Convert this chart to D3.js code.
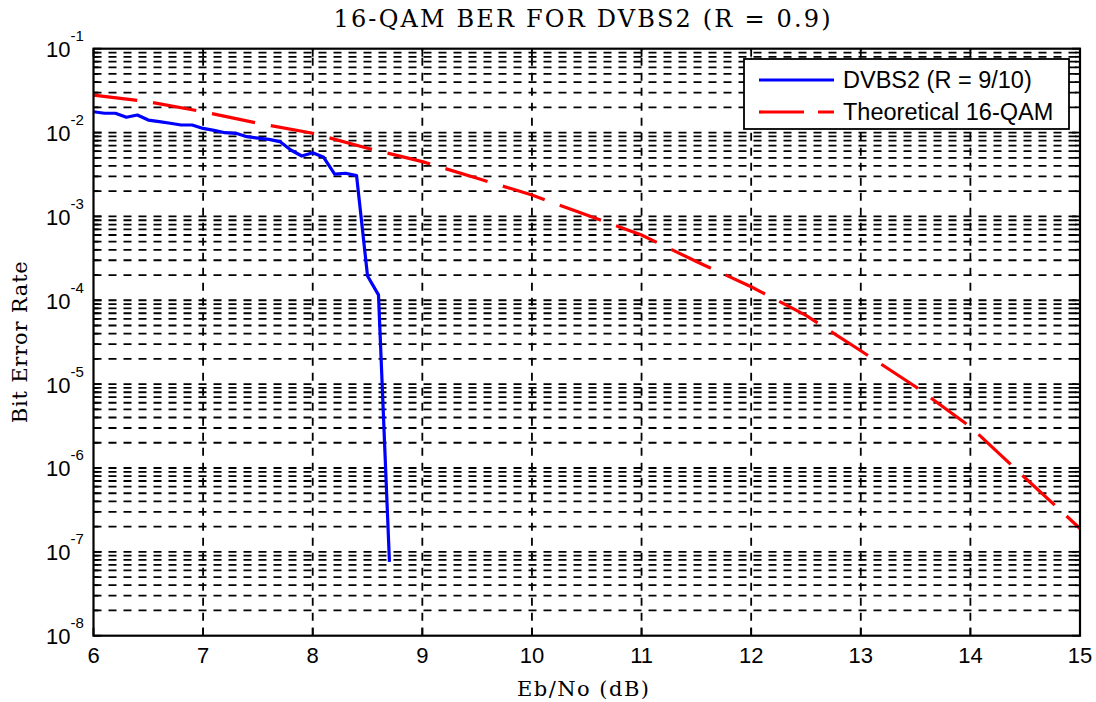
<!DOCTYPE html>
<html>
<head>
<meta charset="utf-8">
<script src="https://cdn.jsdelivr.net/npm/d3@7"></script>
<style>
  body { margin: 0; background: #fff; }
</style>
</head>
<body>
<script>
// simulated DVBS2 curve (R = 9/10)
const ebnoSim = [6.0, 6.1, 6.2, 6.3, 6.4, 6.5, 6.6, 6.7, 6.8, 6.9, 7.0, 7.1, 7.2, 7.3,
  7.4, 7.5, 7.6, 7.7, 7.8, 7.9, 8.0, 8.1, 8.2, 8.3, 8.4, 8.5, 8.6, 8.7];
const berSim = [1.77e-2, 1.70e-2, 1.70e-2, 1.52e-2, 1.62e-2, 1.41e-2, 1.35e-2, 1.29e-2,
  1.23e-2, 1.23e-2, 1.12e-2, 1.06e-2, 9.96e-3, 9.8e-3, 8.93e-3, 8.6e-3, 8.3e-3, 7.8e-3,
  6.19e-3, 5.25e-3, 5.75e-3, 5.07e-3, 3.2e-3, 3.27e-3, 3.06e-3, 1.95e-4, 1.16e-4, 7.6e-8];

// theoretical 16-QAM curve
const ebnoTheory = [6, 6.5, 7, 7.5, 8, 8.5, 9, 9.5, 10, 10.5, 11, 11.5, 12, 12.5, 13,
  13.5, 14, 14.5, 15];
const berTheory = [2.8e-2, 2.33e-2, 1.77e-2, 1.29e-2, 9.8e-3, 6.5e-3, 4.5e-3, 2.85e-3,
  1.8e-3, 1.04e-3, 6.0e-4, 2.9e-4, 1.45e-4, 6.6e-5, 2.5e-5, 9.3e-6, 3.1e-6, 7.6e-7, 1.9e-7];

const xTicks = [6, 7, 8, 9, 10, 11, 12, 13, 14, 15];
const yExponents = [-1, -2, -3, -4, -5, -6, -7, -8];
const legendLabels = ["DVBS2 (R = 9/10)", "Theoretical 16-QAM"];

const width = 1096, height = 702;
const plotLeft = 93.5, plotRight = 1080, plotTop = 48.7, plotBottom = 635.7;

const svg = d3.select("body").append("svg")
  .attr("width", width)
  .attr("height", height)
  .style("display", "block");

const x = d3.scaleLinear().domain([6, 15]).range([plotLeft, plotRight]);
const y = d3.scaleLog().domain([1e-8, 1e-1]).range([plotBottom, plotTop]);

// grid values: every minor step of every decade
const gridValues = [];
for (let e = -8; e < -1; e++) {
  for (let m = 1; m <= 9; m++) gridValues.push(m * Math.pow(10, e));
}
gridValues.push(1e-1);

const grid = svg.append("g")
  .attr("stroke", "#000")
  .attr("stroke-width", 1.8)
  .attr("stroke-dasharray", "8,7");

grid.selectAll("line.h")
  .data(gridValues.filter((v) => v > 1.5e-8 && v < 0.099))
  .join("line")
  .attr("class", "h")
  .attr("x1", plotLeft).attr("x2", plotRight)
  .attr("y1", (d) => y(d)).attr("y2", (d) => y(d));

grid.selectAll("line.v")
  .data(xTicks.slice(1, -1))
  .join("line")
  .attr("class", "v")
  .attr("y1", plotBottom).attr("y2", plotTop)
  .attr("x1", (d) => x(d)).attr("x2", (d) => x(d));

// curves
svg.append("clipPath").attr("id", "plot")
  .append("rect").attr("x", plotLeft).attr("y", plotTop)
  .attr("width", plotRight - plotLeft).attr("height", plotBottom - plotTop);

const line = d3.line()
  .x((d) => x(d[0]))
  .y((d) => y(d[1]));

svg.append("path")
  .datum(ebnoTheory.map((e, i) => [e, berTheory[i]]))
  .attr("clip-path", "url(#plot)")
  .attr("fill", "none")
  .attr("stroke", "#ff0000")
  .attr("stroke-width", 3.2)
  .attr("stroke-dasharray", "44,16")
  .attr("d", line);

svg.append("path")
  .datum(ebnoSim.map((e, i) => [e, berSim[i]]))
  .attr("clip-path", "url(#plot)")
  .attr("fill", "none")
  .attr("stroke", "#0000ff")
  .attr("stroke-width", 3.2)
  .attr("stroke-linejoin", "round")
  .attr("d", line);

// ticks (inside, both sides)
const ticks = svg.append("g").attr("stroke", "#000").attr("stroke-width", 1.8);
gridValues.forEach((v) => {
  const major = Math.abs(Math.log10(v) - Math.round(Math.log10(v))) < 1e-9;
  const len = major ? 8 : 5;
  ticks.append("line").attr("x1", plotLeft).attr("x2", plotLeft + len).attr("y1", y(v)).attr("y2", y(v));
  ticks.append("line").attr("x1", plotRight).attr("x2", plotRight - len).attr("y1", y(v)).attr("y2", y(v));
});
xTicks.forEach((t) => {
  ticks.append("line").attr("x1", x(t)).attr("x2", x(t)).attr("y1", plotBottom).attr("y2", plotBottom - 8);
  ticks.append("line").attr("x1", x(t)).attr("x2", x(t)).attr("y1", plotTop).attr("y2", plotTop + 8);
});

// axes box
svg.append("rect")
  .attr("x", plotLeft).attr("y", plotTop)
  .attr("width", plotRight - plotLeft).attr("height", plotBottom - plotTop)
  .attr("fill", "none")
  .attr("stroke", "#000")
  .attr("stroke-width", 2.2);

// tick labels
const sans = "Arial, 'Liberation Sans', sans-serif";
svg.append("g")
  .selectAll("text")
  .data(xTicks)
  .join("text")
  .attr("x", (d) => x(d))
  .attr("y", 663)
  .attr("text-anchor", "middle")
  .attr("font-family", sans)
  .attr("font-size", 22)
  .text((d) => d);

const yLab = svg.append("g").attr("font-family", sans);
yExponents.forEach((e) => {
  const t = yLab.append("text").attr("x", 46).attr("y", y(Math.pow(10, e)) + 8.5);
  t.append("tspan").attr("font-size", 22).text("10");
  t.append("tspan").attr("font-size", 15)
    .attr("y", y(Math.pow(10, e)) - 7.5).text(e);
});

// titles
const serif = "'DejaVu Serif', 'Liberation Serif', serif";
svg.append("text")
  .attr("x", 582).attr("y", 27)
  .attr("text-anchor", "middle")
  .attr("font-family", serif)
  .attr("font-size", 24)
  .attr("textLength", 497)
  .attr("lengthAdjust", "spacing")
  .text("16-QAM BER FOR DVBS2 (R = 0.9)");

svg.append("text")
  .attr("x", 583).attr("y", 696)
  .attr("text-anchor", "middle")
  .attr("font-family", serif)
  .attr("font-size", 21)
  .attr("textLength", 132)
  .attr("lengthAdjust", "spacing")
  .text("Eb/No (dB)");

svg.append("text")
  .attr("transform", `translate(27,${(plotTop + plotBottom) / 2}) rotate(-90)`)
  .attr("text-anchor", "middle")
  .attr("font-family", serif)
  .attr("font-size", 21)
  .attr("textLength", 162)
  .attr("lengthAdjust", "spacing")
  .text("Bit Error Rate");

// legend
const legend = svg.append("g");
legend.append("rect")
  .attr("x", 744).attr("y", 59)
  .attr("width", 325).attr("height", 70)
  .attr("fill", "#fff")
  .attr("stroke", "#000")
  .attr("stroke-width", 1.8);
legend.append("line")
  .attr("x1", 759).attr("x2", 834).attr("y1", 80).attr("y2", 80)
  .attr("stroke", "#0000ff").attr("stroke-width", 3.2);
legend.append("line")
  .attr("x1", 759).attr("x2", 834).attr("y1", 112).attr("y2", 112)
  .attr("stroke", "#ff0000").attr("stroke-width", 3.2)
  .attr("stroke-dasharray", "45,14");
legend.selectAll("text")
  .data(legendLabels)
  .join("text")
  .attr("x", 843)
  .attr("y", (d, i) => 88 + i * 32)
  .attr("font-family", sans)
  .attr("font-size", 23.5)
  .text((d) => d);
</script>
</body>
</html>
